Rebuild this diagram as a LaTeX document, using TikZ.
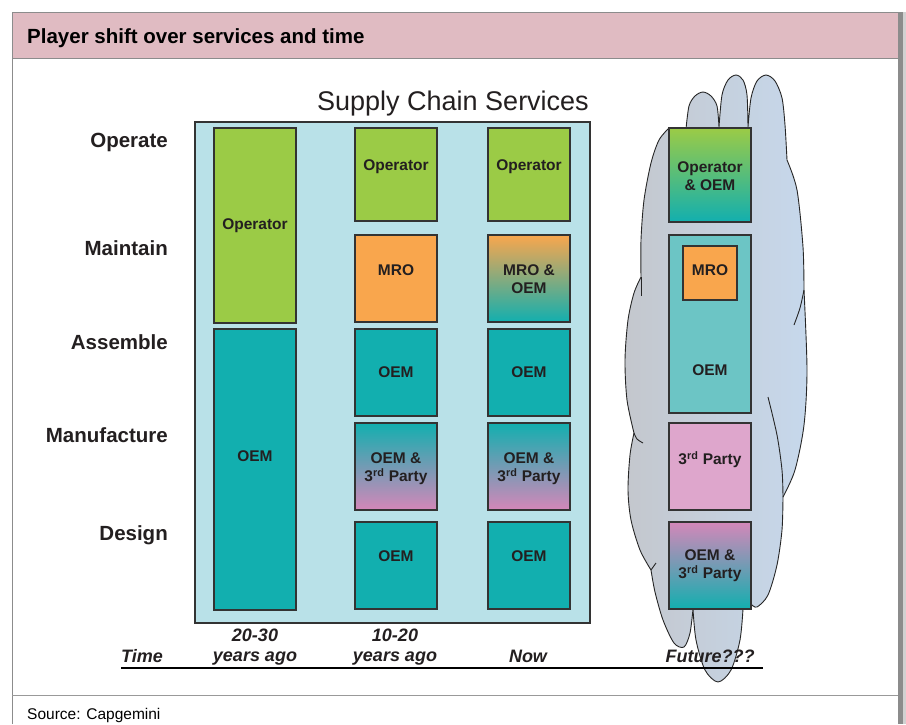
\documentclass[tikz,border=0pt]{standalone}
\usepackage{fontspec}
\setmainfont{Liberation Sans}
\definecolor{hdrpink}{HTML}{E0BBC2}
\definecolor{scsblue}{HTML}{B9E1E8}
\definecolor{opgreen}{HTML}{9BCB46}
\definecolor{oemteal}{HTML}{12AFAF}
\definecolor{oemlight}{HTML}{6CC5C5}
\definecolor{mroorange}{HTML}{F9A64D}
\definecolor{ptypink}{HTML}{DEA6CC}
\definecolor{ptydeep}{HTML}{D487B9}
\definecolor{cloudl}{HTML}{C4C7CD}
\definecolor{cloudr}{HTML}{C6D8EC}
\definecolor{txtgray}{HTML}{231F20}

\begin{document}
\begin{tikzpicture}[x=1pt,y=-1pt]
  \tikzset{svc/.style={draw=black!80,line width=1.3pt},
    cloudline/.style={draw=black!85,line width=0.9pt},
    lbl/.style={font=\fontsize{15.5}{18}\selectfont\bfseries,text=txtgray,align=center,inner sep=0pt},
    rowlbl/.style={font=\fontsize{20.5}{24}\selectfont\bfseries,text=txtgray,anchor=east,inner sep=0pt},
    timelbl/.style={font=\fontsize{18}{20}\selectfont\bfseries\itshape,text=txtgray,align=center,inner sep=0pt}}
  \useasboundingbox (0,0) rectangle (906,724);
  % frame, header and footer
  \fill[white] (0,0) rectangle (906,724);
  \fill[hdrpink] (12,12) rectangle (898,58);
  \draw[black!45,line width=1pt] (12,724) -- (12,12) -- (898,12);
  \draw[black!45,line width=1pt] (12,58) -- (898,58);
  \draw[black!40,line width=1pt] (12,695) -- (898,695);
  \fill[black!45] (898,12) rectangle (903,724);
  \fill[black!18] (903,12) rectangle (906,724);
  \node (title) [anchor=west,font=\fontsize{20.5}{24}\selectfont\bfseries,text=black,inner sep=0pt] at (27,38) {Player shift over services and time};
  \node (src) [anchor=base west,font=\fontsize{15.5}{18}\selectfont,text=black,inner sep=0pt] at (27,719.5) {Source: Capgemini};

  % row labels
  \foreach \y/\t in {142/Operate,248/Maintain,342/Assemble,435/Manufacture,535/Design}
    \node (row\t) [rowlbl] at (168,\y) {\t};

  % supply chain services panel
  \node (scs) [font=\fontsize{27}{30}\selectfont,text=txtgray,inner sep=0pt] at (453,104) {Supply Chain Services};
  \draw[svc,fill=scsblue] (195,122) rectangle (590,623);

  % 20-30 years ago
  \draw[svc,fill=opgreen] (214,128) rectangle (296,323);
  \node (aop) [lbl] at (255,226) {Operator};
  \draw[svc,fill=oemteal] (214,329) rectangle (296,610);
  \node (aoem) [lbl] at (255,456) {OEM};

  % 10-20 years ago and now
  \foreach \cx/\nm in {355/b,488/c}{
    \draw[svc,fill=opgreen] (\cx,128) rectangle ++(82,93);
    \node (\nm op) [lbl] at (\cx+41,167) {Operator};
    \draw[svc,fill=oemteal] (\cx,329) rectangle ++(82,87);
    \node (\nm asm) [lbl] at (\cx+41,372) {OEM};
    \draw[svc,top color=oemteal,bottom color=ptydeep] (\cx,423) rectangle ++(82,87);
    \node (\nm man) [lbl] at (\cx+41,469) {OEM \&\\3\textsuperscript{rd} Party};
    \draw[svc,fill=oemteal] (\cx,522) rectangle ++(82,87);
    \node (\nm des) [lbl] at (\cx+41,556) {OEM};
  }
  \draw[svc,fill=mroorange] (355,235) rectangle (437,322);
  \node (bmro) [lbl] at (396,270) {MRO};
  \draw[svc,top color=mroorange,bottom color=oemteal] (488,235) rectangle (570,322);
  \node (cmro) [lbl] at (529,279) {MRO \&\\OEM};

  % cloud behind the future column
  \path[cloudline,left color=cloudl,right color=cloudr]
    (669,128) -- plot[smooth] coordinates {(686,129) (689,106) (695,96) (703,92) (711,96) (717,106) (719,127)}
    -- plot[smooth] coordinates {(719,127) (722,95) (728,80) (736,75) (743,80) (747,95) (748,127)}
    -- plot[smooth] coordinates {(748,127) (751,98) (757,81) (766,75) (775,81) (782,98) (785,125) (787,160)}
    -- plot[smooth] coordinates {(787,160) (797,190) (803,247) (804,290)}
    -- plot[smooth] coordinates {(804,290) (807,370) (804,425) (795,470) (783,497)}
    -- plot[smooth] coordinates {(783,497) (782,530) (777,565) (768,595) (757,607) (751,604)}
    -- (751,609)
    -- plot[smooth] coordinates {(743,609) (740,640) (731,670) (718,682) (705,670) (696,640) (693,609)}
    -- plot[smooth] coordinates {(693,609) (690,633) (684,647) (674,643) (663,620) (655,592) (651,570)}
    -- plot[smooth] coordinates {(651,570) (640,550) (631,520) (628,490) (630,455) (634,433)}
    -- plot[smooth] coordinates {(634,433) (627,400) (625,360) (628,320) (634,293) (641,277)}
    -- plot[smooth] coordinates {(641,277) (641,240) (644,200) (651,163) (659,140) (669,128)}
    -- cycle;
  \draw[cloudline] (641,277) -- (641,296);
  \draw[cloudline] plot[smooth] coordinates {(634,433) (637,439) (643,443)};
  \draw[cloudline] (651,570) -- (656,563);
  \draw[cloudline] plot[smooth] coordinates {(804,290) (800,308) (794,325)};
  \draw[cloudline] plot[smooth] coordinates {(768,397) (777,435) (782,470) (783,497)};

  % future
  \draw[svc,top color=opgreen,bottom color=oemteal] (669,128) rectangle (751,222);
  \node (dop) [lbl] at (710,176) {Operator\\\& OEM};
  \draw[svc,fill=oemlight] (669,235) rectangle (751,413);
  \draw[svc,fill=mroorange] (683,246) rectangle (737,300);
  \node (dmro) [lbl] at (710,270) {MRO};
  \node (dasm) [lbl] at (710,370) {OEM};
  \draw[svc,fill=ptypink] (669,423) rectangle (751,510);
  \node (dman) [lbl] at (710,460) {3\textsuperscript{rd} Party};
  \draw[svc,top color=ptydeep,bottom color=oemteal] (669,522) rectangle (751,609);
  \node (ddes) [lbl] at (710,566) {OEM \&\\3\textsuperscript{rd} Party};

  % time axis
  \node (time) [timelbl] at (142,656) {Time};
  \node (t1) [timelbl] at (255,647) {20-30\\years ago};
  \node (t2) [timelbl] at (395,647) {10-20\\years ago};
  \node (t3) [timelbl] at (528,656) {Now};
  \node (t4) [timelbl] at (710,656) {Future???};
  \draw[black,line width=1.3pt] (121,668) -- (763,668);
\end{tikzpicture}
\end{document}
